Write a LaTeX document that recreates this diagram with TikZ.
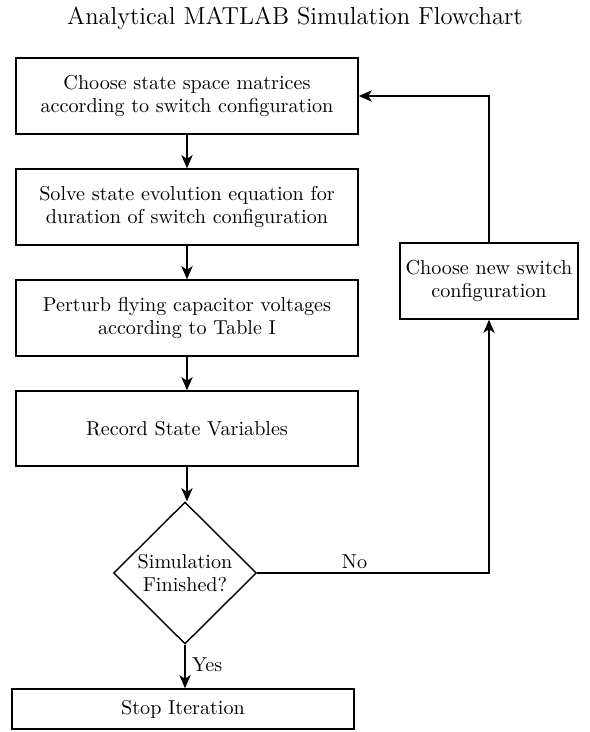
\documentclass[tikz,border=0pt]{standalone}
\usetikzlibrary{arrows.meta,shapes.geometric}
\begin{document}
\begin{tikzpicture}[x=0.529pt,y=-0.529pt,
  every path/.style={line width=0.75pt},
  every node/.style={font=\fontsize{10.65}{12}\selectfont},
  procbox/.style={draw, line width=0.75pt, align=center, inner sep=0pt, minimum width=180.9pt},
  decbox/.style={draw, line width=0.75pt, shape=diamond, align=center, inner sep=0pt, minimum width=75.6pt, minimum height=75.1pt},
  flow/.style={-{Stealth[length=7pt,width=6pt,inset=2pt]}, line width=0.75pt}]
\useasboundingbox (0,0) rectangle (590,732);
\node[font=\fontsize{13}{15}\selectfont] (title) at (295,18) {Analytical MATLAB Simulation Flowchart};
\node[procbox, minimum height=40.2pt] (b1) at (187,96) {Choose state space matrices\\according to switch configuration};
\node[procbox, minimum height=40.2pt] (b2) at (187,207) {Solve state evolution equation for\\duration of switch configuration};
\node[procbox, minimum height=40.2pt] (b3) at (187,318) {Perturb flying capacitor voltages\\according to Table I};
\node[procbox, minimum height=39.7pt] (b4) at (187,428.5) {Record State Variables};
\node[decbox] (dec) at (185,573) {Simulation\\Finished?};
\node[procbox, minimum height=21.2pt] (stop) at (183,709) {Stop Iteration};
\node[procbox, minimum width=94.2pt, minimum height=40.2pt] (new) at (489,281) {Choose new switch\\configuration};
\draw[flow] (b1.south) -- (b2.north);
\draw[flow] (b2.south) -- (b3.north);
\draw[flow] (b3.south) -- (b4.north);
\draw[flow] (b4.south) -- (b4.south |- dec.north);
\draw[flow] (dec.south) -- node[right, pos=0.45] {Yes} (dec.south |- stop.north);
\draw[flow] (dec.east) -- node[above, pos=0.42, inner sep=2pt] {No} (dec.east -| new.south) -- (new.south);
\draw[flow] (new.north) |- (b1.east);
\end{tikzpicture}
\end{document}
